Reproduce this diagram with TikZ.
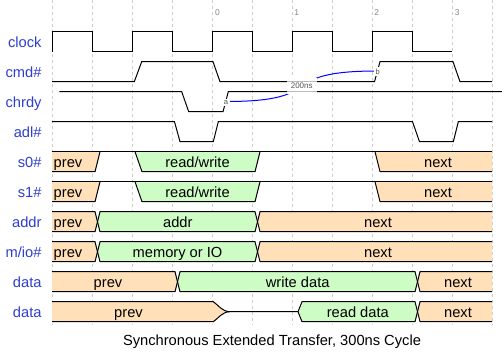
\documentclass[tikz,border=0pt]{standalone}
\usepackage{fontspec}
\setmainfont{Liberation Sans}
\definecolor{wdorange}{HTML}{FFE0B9}
\definecolor{wdgreen}{HTML}{CDFDC5}
\definecolor{wdblue}{HTML}{2E3FCC}
\definecolor{wdgrid}{HTML}{CCCCCC}
\definecolor{wdmuted}{HTML}{888888}
\definecolor{wdlbl}{HTML}{555555}
\begin{document}
\begin{tikzpicture}[x=1pt,y=-1pt,
  sig/.style={line width=1pt},
  lanename/.style={anchor=base east, text=wdblue, font=\fontsize{14.67}{16}\selectfont, inner sep=0pt},
  boxtext/.style={anchor=base, font=\fontsize{14.67}{16}\selectfont, inner sep=0pt},
  ticktext/.style={anchor=base, text=wdmuted, font=\fontsize{8.5}{9}\selectfont, inner sep=0pt},
  edgetext/.style={anchor=base, text=wdlbl, font=\fontsize{7.5}{8}\selectfont, inner sep=1.5pt, fill=white},
  gridline/.style={wdgrid, line width=0.6pt, dash pattern=on 3pt off 3pt},
  edgecurve/.style={blue, line width=1pt}]
\useasboundingbox (0,0) rectangle (502,362);
\fill[white] (0,0) rectangle (502,362);
% grid
\foreach \k in {0,...,11} {\draw[gridline] (52+40*\k,0) -- (52+40*\k,325);}
% ticks
\node[ticktext] (tick0) at (217.5,15) {0};
\node[ticktext] (tick1) at (296.7,15) {1};
\node[ticktext] (tick2) at (376.7,15) {2};
\node[ticktext] (tick3) at (457.3,15) {3};
% lane names
\node[lanename] (ln1) at (41.7,47) {clock};
\node[lanename] (ln2) at (41.7,77) {cmd\#};
\node[lanename] (ln3) at (41.7,107) {chrdy};
\node[lanename] (ln4) at (41.7,137) {adl\#};
\node[lanename] (ln5) at (41.7,167) {s0\#};
\node[lanename] (ln6) at (41.7,197) {s1\#};
\node[lanename] (ln7) at (41.7,227) {addr};
\node[lanename] (ln8) at (41.7,257) {m/io\#};
\node[lanename] (ln9) at (41.7,287) {data};
\node[lanename] (ln10) at (41.7,317) {data};
% clock
\draw[sig] (52,51.7) -- (52,31.7) -- (92,31.7) -- (92,51.7) -- (132,51.7) -- (132,31.7)
  -- (172,31.7) -- (172,51.7) -- (212,51.7) -- (212,31.7) -- (252,31.7) -- (252,51.7)
  -- (292,51.7) -- (292,31.7) -- (332,31.7) -- (332,51.7) -- (372,51.7) -- (372,31.7)
  -- (412,31.7) -- (412,51.7) -- (452,51.7);
% cmd#
\draw[sig] (52,81.7) -- (134.3,81.7) -- (141.7,61.7) -- (213,61.7) -- (220,81.7)
  -- (374.5,81.7) -- (380,61.7) -- (453,61.7) -- (460,81.7) -- (492,81.7);
% chrdy
\draw[sig] (59.3,91.7) -- (181.7,91.7) -- (188.7,111.7) -- (223,111.7) -- (228.3,91.7) -- (502,91.7);
% adl#
\draw[sig] (52,121.7) -- (174.5,121.7) -- (180,141.7) -- (213.3,141.7) -- (218.3,121.7)
  -- (412.5,121.7) -- (419.5,141.7) -- (453.3,141.7) -- (458.3,121.7) -- (492,121.7);
% s0# and s1#
\foreach \T/\B in {151.7/171.7, 181.7/201.7} {
  \fill[wdorange] (52,\T) -- (100,\T) -- (95,\B) -- (52,\B) -- cycle;
  \fill[wdgreen] (135,\T) -- (260,\T) -- (255,\B) -- (142,\B) -- cycle;
  \fill[wdorange] (375,\T) -- (492,\T) -- (492,\B) -- (380,\B) -- cycle;
  \draw[sig] (52,\T) -- (492,\T);
  \draw[sig] (52,\B) -- (95,\B) -- (100,\T);
  \draw[sig] (135,\T) -- (142,\B) -- (255,\B) -- (260,\T);
  \draw[sig] (375,\T) -- (380,\B) -- (492,\B);
}
% addr and m/io#
\foreach \T/\M/\B in {211.7/221.7/231.7, 241.7/251.7/261.7} {
  \fill[wdorange] (52,\T) -- (95,\T) -- (97.5,\M) -- (95,\B) -- (52,\B) -- cycle;
  \fill[wdgreen] (100,\T) -- (255,\T) -- (257.5,\M) -- (255,\B) -- (100,\B) -- (97.5,\M) -- cycle;
  \fill[wdorange] (260,\T) -- (492,\T) -- (492,\B) -- (260,\B) -- (257.5,\M) -- cycle;
  \draw[sig] (52,\T) -- (95,\T) -- (100,\B) -- (255,\B) -- (260,\T) -- (492,\T);
  \draw[sig] (52,\B) -- (95,\B) -- (100,\T) -- (255,\T) -- (260,\B) -- (492,\B);
}
% data (write)
\def\T{271.7}\def\M{281.7}\def\B{291.7}
\fill[wdorange] (52,\T) -- (175,\T) -- (177.5,\M) -- (175,\B) -- (52,\B) -- cycle;
\fill[wdgreen] (180,\T) -- (415,\T) -- (417.5,\M) -- (415,\B) -- (180,\B) -- (177.5,\M) -- cycle;
\fill[wdorange] (420,\T) -- (492,\T) -- (492,\B) -- (420,\B) -- (417.5,\M) -- cycle;
\draw[sig] (52,\T) -- (175,\T) -- (180,\B) -- (415,\B) -- (420,\T) -- (492,\T);
\draw[sig] (52,\B) -- (175,\B) -- (180,\T) -- (415,\T) -- (420,\B) -- (492,\B);
% data (read)
\def\T{301.7}\def\M{311.7}\def\B{321.7}
\fill[wdorange] (52,\T) -- (213.3,\T) .. controls (218,304.7) and (222,\M) .. (230,\M)
  .. controls (222,\M) and (218,318.7) .. (213.3,\B) -- (52,\B) -- cycle;
\fill[wdgreen] (298,\M) -- (302,\T) -- (415,\T) -- (417.5,\M) -- (415,\B) -- (302,\B) -- cycle;
\fill[wdorange] (420,\T) -- (492,\T) -- (492,\B) -- (420,\B) -- (417.5,\M) -- cycle;
\draw[sig] (52,\T) -- (213.3,\T) .. controls (218,304.7) and (222,\M) .. (230,\M) -- (298,\M)
  -- (302,\T) -- (415,\T) -- (420,\B) -- (492,\B);
\draw[sig] (52,\B) -- (213.3,\B) .. controls (218,318.7) and (222,\M) .. (230,\M);
\draw[sig] (298,\M) -- (302,\B) -- (415,\B) -- (420,\T) -- (492,\T);
% box texts
\foreach \y/\n in {167/5,197/6} {
  \node[boxtext] (t\n a) at (68,\y) {prev};
  \node[boxtext] (t\n b) at (197.5,\y) {read/write};
  \node[boxtext] (t\n c) at (438,\y) {next};
}
\node[boxtext] (t7a) at (68,227) {prev};
\node[boxtext] (t7b) at (177.8,227) {addr};
\node[boxtext] (t7c) at (378,227) {next};
\node[boxtext] (t8a) at (68,257) {prev};
\node[boxtext] (t8b) at (177.5,257) {memory or IO};
\node[boxtext] (t8c) at (378,257) {next};
\node[boxtext] (t9a) at (108,287) {prev};
\node[boxtext] (t9b) at (297.7,287) {write data};
\node[boxtext] (t9c) at (458,287) {next};
\node[boxtext] (t10a) at (128.5,317) {prev};
\node[boxtext] (t10b) at (357.8,317) {read data};
\node[boxtext] (t10c) at (458,317) {next};
% edge a ~ b
\coordinate (na) at (226,101.5);
\coordinate (nb) at (377.5,71);
\draw[edgecurve] (na) .. controls (332,101.5) and (271.5,71) .. (nb);
\node[edgetext] (lbla) at (226,104.5) {a};
\node[edgetext] (lblb) at (377.7,74.3) {b};
\fill[white] (286.5,78) rectangle (316.5,94);
\draw[gray!55, line width=1pt] (286.5,81.7) -- (316.5,81.7);
\draw[gray!55, line width=1pt] (286.5,91.7) -- (316.5,91.7);
\node[edgetext, fill=none, font=\fontsize{8}{9}\selectfont] (lbl200) at (301.7,88.8) {200ns};
% title
\node[boxtext] (title) at (272,345.5) {Synchronous Extended Transfer, 300ns Cycle};
\end{tikzpicture}
\end{document}
